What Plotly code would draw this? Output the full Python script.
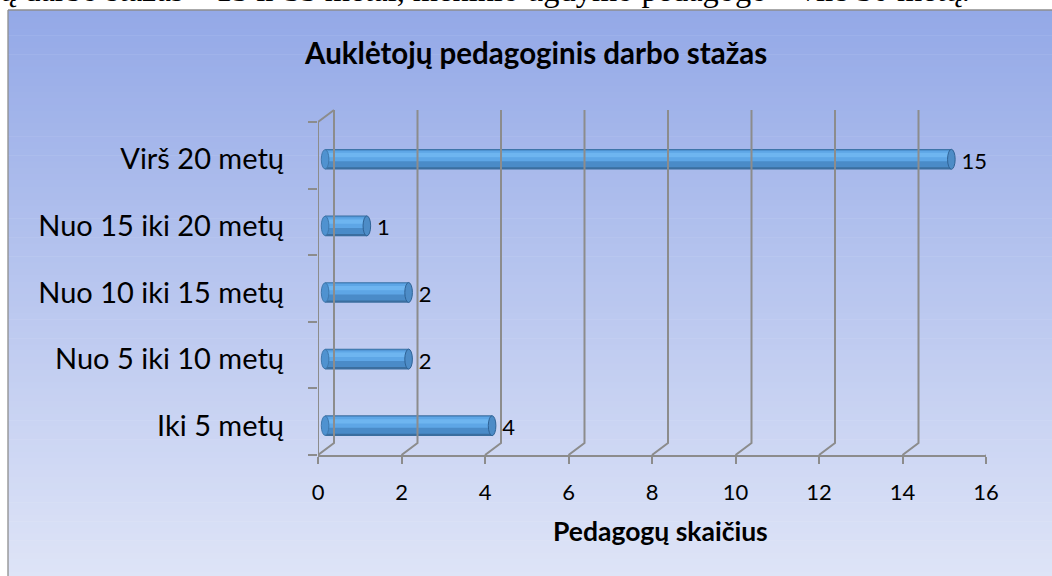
import plotly.graph_objects as go

# ---------------- data ----------------
categories = ["Iki 5 metų", "Nuo 5 iki 10 metų", "Nuo 10 iki 15 metų",
              "Nuo 15 iki 20 metų", "Virš 20 metų"]
values = [4, 2, 2, 1, 15]
x_ticks = [0, 2, 4, 6, 8, 10, 12, 14, 16]
title_text = "Auklėtojų pedagoginis darbo stažas"
x_title = "Pedagogų skaičius"
top_text = "ų darbo stažas – 15 ir 35 metai, meninio ugdymo pedagogo – virš 30 metų."

# ---------------- geometry ----------------
W, H = 1052, 576
px_x0, px_x1 = 318, 986          # x=0 and x=16 on the front plane
px_ybot, px_ytop = 455, 108      # bottom axis line, top of back wall
unit_y = 66.6                    # pixels per category
unit_x = (px_x1 - px_x0) / 16.0
y_lo = -0.5
y_hi = y_lo + (px_ybot - px_ytop) / unit_y
dx = 16 / unit_x                 # depth offset (x units)
dy = 12 / unit_y                 # depth offset (y units)
GRID = "#8c8c8c"

n = len(categories)
centers = [i - 0.06 for i in range(n)]
bar_start = 0.17
thick = 0.31
cap_half = 3.8 / unit_x

fig = go.Figure()

# background gradient of chart box
box_left, box_top = 8, 10
top_rgb = (148, 169, 231)
bot_rgb = (222, 228, 247)
nb = 90
for k in range(nb):
    t = k / (nb - 1)
    c = tuple(int(round(top_rgb[j] + (bot_rgb[j] - top_rgb[j]) * t)) for j in range(3))
    y0p = box_top + (H + 2 - box_top) * k / nb
    y1p = box_top + (H + 2 - box_top) * (k + 1) / nb + 0.6
    fig.add_shape(type="rect", xref="paper", yref="paper", layer="below",
                  x0=box_left / W, x1=1.01, y0=1 - y1p / H, y1=1 - y0p / H,
                  fillcolor="rgb(%d,%d,%d)" % c, line_width=0)
# box border (left and top)
fig.add_shape(type="line", xref="paper", yref="paper", layer="below",
              x0=box_left / W, x1=box_left / W, y0=-0.01, y1=1 - box_top / H,
              line=dict(color="#8e8e8e", width=1.3))
fig.add_shape(type="line", xref="paper", yref="paper", layer="below",
              x0=box_left / W, x1=1.01, y0=1 - box_top / H, y1=1 - box_top / H,
              line=dict(color="#8e8e8e", width=1.3))

# ---------------- 3D wall grid lines ----------------
gx, gy = [], []
for v in x_ticks:
    gx += [v, v + dx, v + dx, None]
    gy += [y_lo, y_lo + dy, n - 0.5 + dy, None]
# left wall: front line + top diagonal
gx += [0, 0, dx, None]
gy += [y_lo, n - 0.5, n - 0.5 + dy, None]
fig.add_trace(go.Scatter(x=gx, y=gy, mode="lines", line=dict(color=GRID, width=2),
                         hoverinfo="skip", showlegend=False, cliponaxis=False))

# ---------------- cylinders ----------------
layers = [
    (thick, 0.0, "#3b6e9f"),
    (thick - 0.045, 0.012, "#4a8bc8"),
    (0.16, 0.05, "#5ea6e6"),
    (0.065, 0.065, "#6eb5f0"),
]
for w, off, col in layers:
    fig.add_trace(go.Bar(
        orientation="h", y=[c + off for c in centers], x=values,
        base=[bar_start] * n, width=w, marker=dict(color=col, line_width=0),
        hoverinfo="skip", showlegend=False))

for v, c in zip(values, centers):
    # rounded left end
    fig.add_shape(type="circle", xref="x", yref="y", layer="above",
                  x0=bar_start - cap_half, x1=bar_start + cap_half,
                  y0=c - thick / 2 + 0.01, y1=c + thick / 2 - 0.01,
                  fillcolor="#4f92d0", line=dict(color="#3f78ad", width=1))
    # end cap
    fig.add_shape(type="circle", xref="x", yref="y", layer="above",
                  x0=bar_start + v - cap_half, x1=bar_start + v + cap_half,
                  y0=c - thick / 2 + 0.005, y1=c + thick / 2 - 0.005,
                  fillcolor="#4d8cc7", line=dict(color="#2f6396", width=1))

# data labels
fig.add_trace(go.Scatter(
    x=[bar_start + v + cap_half + 0.15 for v in values],
    y=[c - 0.06 for c in centers], mode="text",
    text=[str(v) for v in values], textposition="middle right",
    textfont=dict(family="Lato", size=22, color="#000000"),
    hoverinfo="skip", showlegend=False, cliponaxis=False))

# ---------------- layout ----------------
fig.update_layout(
    width=W, height=H,
    margin=dict(l=0, r=0, t=0, b=0, autoexpand=False),
    paper_bgcolor="white", plot_bgcolor="rgba(0,0,0,0)",
    barmode="overlay",
    font=dict(family="Lato", color="#000000"),
    xaxis=dict(domain=[px_x0 / W, px_x1 / W], range=[0, 16], automargin=False,
               tickvals=x_ticks, ticktext=[str(t) for t in x_ticks],
               showgrid=False, zeroline=False,
               showline=True, linecolor=GRID, linewidth=2,
               ticks="outside", ticklen=7, tickwidth=1.5, tickcolor=GRID,
               tickfont=dict(family="Lato", size=22),
               ticklabelstandoff=10),
    yaxis=dict(domain=[1 - px_ybot / H, 1 - px_ytop / H], range=[y_lo, y_hi],
               automargin=False,
               tickvals=centers, ticktext=categories,
               showgrid=False, zeroline=False, showline=False,
               ticks="", tickfont=dict(family="Lato", size=29),
               ticklabelstandoff=33,
               minor=dict(tickvals=[i - 0.5 for i in range(n + 1)],
                          ticks="outside", ticklen=9, tickwidth=1.5,
                          tickcolor=GRID, showgrid=False)),
    annotations=[
        dict(text="<b>" + title_text + "</b>", xref="paper", yref="paper",
             x=535 / W, y=1 - 53 / H, xanchor="center", yanchor="middle",
             showarrow=False, font=dict(family="Lato", size=29.5, color="#000000")),
        dict(text="<b>" + x_title + "</b>", xref="paper", yref="paper",
             x=660 / W, y=1 - 531 / H, xanchor="center", yanchor="middle",
             showarrow=False, font=dict(family="Lato", size=26.5, color="#000000")),
        dict(text=top_text, xref="paper", yref="paper",
             x=-2 / W, y=1 + 10 / H, xanchor="left", yanchor="middle",
             showarrow=False, font=dict(family="Liberation Serif", size=32.4, color="#000000")),
    ],
)

fig.write_html("out.html", config={"displayModeBar": False},
               post_script="document.body.style.margin='0';document.body.style.overflow='hidden';")
